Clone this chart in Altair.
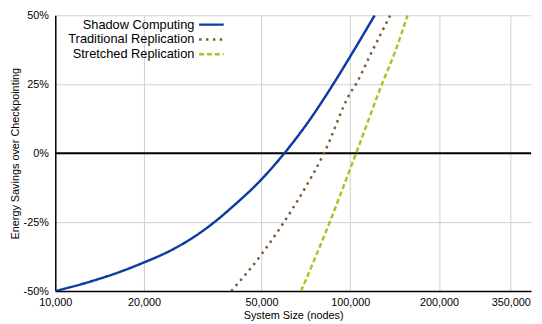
import altair as alt
import pandas as pd

series_names = ["Shadow Computing", "Traditional Replication", "Stretched Replication"]
series_colors = ["#0a3ca2", "#7e5a32", "#a6c521"]
series_dash = [[1, 0], [2.5, 4.5], [5, 3]]

shadow_x = [10000, 12910, 16690, 20000, 24490, 29290, 34150, 39810, 50000, 59800, 72000, 87500, 100000, 121000]
shadow_y = [-50, -46.8, -42.9, -39.6, -35.4, -30.6, -25.5, -19.5, -9.5, 0, 11.3, 25, 35.1, 50]

trad_x = [39500, 50000, 58750, 68800, 81500, 100000, 104500, 117000, 136600]
trad_y = [-50, -36.7, -26, -14.3, 0, 21.8, 25, 35.7, 50]

stretch_x = [68100, 85400, 100000, 104700, 128000, 142000, 156400]
stretch_y = [-50, -24.7, -5.6, 0, 25, 36.9, 50]

x_ticks = [10000, 20000, 50000, 100000, 200000, 350000]
y_ticks = [-50, -25, 0, 25, 50]

rows = []
for name, xs, ys in zip(series_names, [shadow_x, trad_x, stretch_x], [shadow_y, trad_y, stretch_y]):
    for i, (a, b) in enumerate(zip(xs, ys)):
        rows.append({"series": name, "nodes": a, "saving": b, "order": i})
df = pd.DataFrame(rows)

FONT = "Liberation Sans"

x_enc = alt.X("nodes:Q", title="System Size (nodes)",
              scale=alt.Scale(type="log", domain=[10000, 410000], nice=False),
              axis=alt.Axis(values=x_ticks, format=",", grid=True, ticks=False,
                            labelFontSize=11, titleFontSize=11, labelPadding=6,
                            titlePadding=2, titleFontWeight="normal",
                            domainColor="black", domainWidth=1.5,
                            labelColor="black", titleColor="black",
                            gridColor="#d0d0d0", labelFont=FONT, titleFont=FONT,
                            labelFlush=False))
y_enc = alt.Y("saving:Q", title="Energy Savings over Checkpointing",
              scale=alt.Scale(domain=[-50, 50], nice=False),
              axis=alt.Axis(values=y_ticks, labelExpr="datum.value + '%'", grid=True,
                            ticks=False, labelFontSize=11, titleFontSize=11,
                            labelPadding=7, titlePadding=3, titleFontWeight="normal",
                            domainColor="black", domainWidth=1.5,
                            labelColor="black", titleColor="black",
                            gridColor="#d0d0d0", labelFont=FONT, titleFont=FONT))

lines = alt.Chart(df).mark_line(strokeWidth=2.5, interpolate="monotone", clip=True).encode(
    x=x_enc,
    y=y_enc,
    order="order:Q",
    color=alt.Color("series:N", scale=alt.Scale(domain=series_names, range=series_colors),
                    legend=alt.Legend(title=None, orient="none", legendX=151, legendY=2,
                                      symbolType="M-2,0H2", symbolSize=156.25,
                                      symbolStrokeWidth=2.5, labelAlign="right",
                                      labelOffset={"expr": "-24.75"}, labelFontSize=13,
                                      labelFont=FONT, labelColor="black",
                                      rowPadding=0, padding=0)),
    strokeDash=alt.StrokeDash("series:N", scale=alt.Scale(domain=series_names, range=series_dash),
                              legend=None),
)

zero_df = pd.DataFrame({"saving": [0]})
zero = alt.Chart(zero_df).mark_rule(color="black", strokeWidth=2).encode(y="saving:Q")

chart = alt.layer(zero, lines).properties(
    width=483, height=280,
    autosize=alt.AutoSizeParams(type="none"),
    padding={"left": 48, "top": 5, "right": 3, "bottom": 30},
).configure_view(stroke=None)

chart.save("out.html", embed_options={"renderer": "svg", "actions": False})
